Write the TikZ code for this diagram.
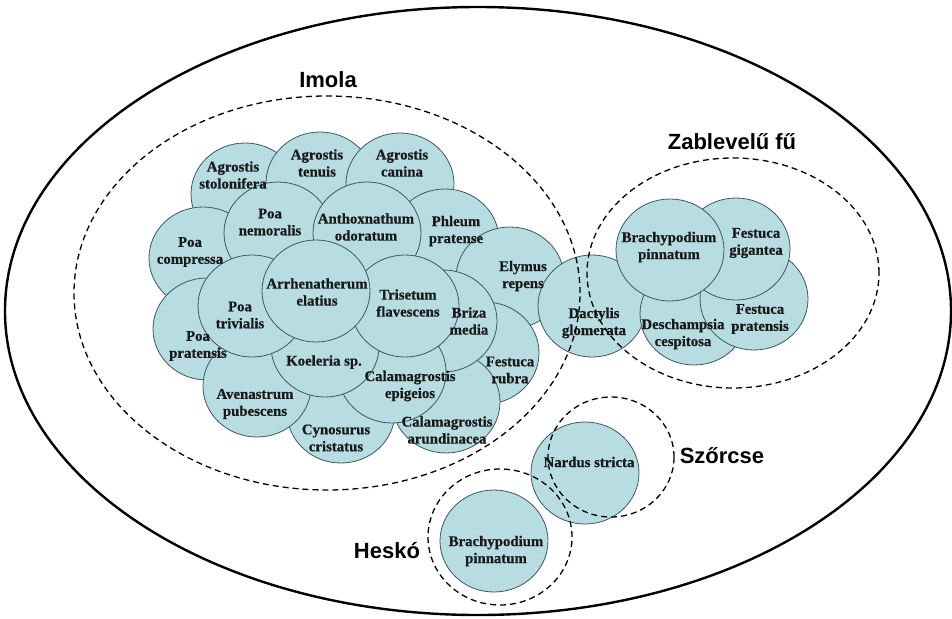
\documentclass[tikz,border=0pt]{standalone}
\usepackage{fontspec}
\newfontfamily\labfont{Liberation Sans}
\newfontfamily\nevfont[FakeBold=0.6]{Liberation Serif Bold}
\usetikzlibrary{shapes.geometric}
\definecolor{grassfill}{RGB}{183,221,226}
\definecolor{grassline}{RGB}{62,86,92}

\begin{document}
\begin{tikzpicture}[x=1pt,y=-1pt,
		fu/.style={draw=grassline, line width=.8pt, fill=grassfill, shape=ellipse, minimum width=108pt, minimum height=102pt, inner sep=0pt},
		nev/.style={align=center, font=\nevfont\fontsize{14.8}{17}\selectfont, text=black!90, inner sep=0pt},
		tars/.style={draw, line width=1.3pt, dash pattern=on 6pt off 4pt},
		felirat/.style={font=\labfont\fontsize{22}{26}\selectfont\bfseries}]
			\useasboundingbox (0,0) rectangle (952,618);
			\draw[line width=2.4pt] (478,311) ellipse [x radius=473pt, y radius=304pt];

			\node[fu] (AS) at (245,194) {};
			\node[fu] (AT) at (320,183) {};
			\node[fu] (AC) at (400,184) {};
			\node[fu] (PC) at (203,258) {};
			\node[fu] (PP) at (207,329) {};
			\node[fu] (PH) at (445,240) {};
			\node[fu] (ER) at (510,278) {};
			\node[fu] (FR) at (485,353) {};
			\node[fu] (CA) at (446,402) {};
			\node[fu] (CC) at (341,412) {};
			\node[fu] (AP) at (257,386) {};
			\node[fu] (PN) at (278,233) {};
			\node[fu] (AO) at (367,233) {};
			\node[fu] (BM) at (443,321) {};
			\node[fu] (CE) at (392,372) {};
			\node[fu] (KS) at (325,346) {};
			\node[fu] (PT) at (252,306) {};
			\node[fu] (TF) at (405,306) {};
			\node[fu] (AE) at (316,291) {};
			\node[fu] (DG) at (592,306) {};
			\node[fu] (DC) at (694,314) {};
			\node[fu] (FP) at (754,299) {};
			\node[fu] (FG) at (736,249) {};
			\node[fu] (BP) at (670,250) {};
			\node[fu] (NS) at (585,473) {};
			\node[fu] (BH) at (494,541) {};

			\node[nev] (AS-n) at (233,175) {Agrostis\\stolonifera};
			\node[nev] (AT-n) at (317,163) {Agrostis\\tenuis};
			\node[nev] (AC-n) at (402,163) {Agrostis\\canina};
			\node[nev] (PC-n) at (190,252) {Poa\\compressa};
			\node[nev] (PP-n) at (198,346) {Poa\\pratensis};
			\node[nev] (PH-n) at (456,231) {Phleum\\pratense};
			\node[nev] (ER-n) at (523,276) {Elymus\\repens};
			\node[nev] (FR-n) at (510,370) {Festuca\\rubra};
			\node[nev] (CA-n) at (447,430) {Calamagrostis\\arundinacea};
			\node[nev] (CC-n) at (336,438) {Cynosurus\\cristatus};
			\node[nev] (AP-n) at (255,404) {Avenastrum\\pubescens};
			\node[nev] (PN-n) at (270,222) {Poa\\nemoralis};
			\node[nev] (AO-n) at (366,227) {Anthoxnathum\\odoratum};
			\node[nev] (BM-n) at (469,321) {Briza\\media};
			\node[nev] (CE-n) at (410,386) {Calamagrostis\\epigeios};
			\node[nev] (KS-n) at (324,362) {Koeleria sp.};
			\node[nev] (PT-n) at (240,315) {Poa\\trivialis};
			\node[nev] (TF-n) at (408,303) {Trisetum\\flavescens};
			\node[nev] (AE-n) at (317,292) {Arrhenatherum\\elatius};
			\node[nev] (DG-n) at (594,323) {Dactylis\\glomerata};
			\node[nev] (DC-n) at (683,334) {Deschampsia\\cespitosa};
			\node[nev] (FP-n) at (760,319) {Festuca\\pratensis};
			\node[nev] (FG-n) at (756,243) {Festuca\\gigantea};
			\node[nev] (BP-n) at (669,247) {Brachypodium\\pinnatum};
			\node[nev] (NS-n) at (589,462) {Nardus stricta};
			\node[nev] (BH-n) at (496,551) {Brachypodium\\pinnatum};

			\draw[tars] (327,293) ellipse [x radius=253pt, y radius=197pt];
			\draw[tars] (733,273) ellipse [x radius=146pt, y radius=115pt];
			\draw[tars] (611,457) ellipse [x radius=63pt, y radius=60pt];
			\draw[tars] (500,537) ellipse [x radius=72pt, y radius=68pt];

			\node[felirat] (imola) at (328,80) {Imola};
			\node[felirat] (zab) at (732,142) {Zablevelű fű};
			\node[felirat] (szor) at (722,456) {Szőrcse};
			\node[felirat] (hesko) at (387,551) {Heskó};
		    \end{tikzpicture}
\end{document}
